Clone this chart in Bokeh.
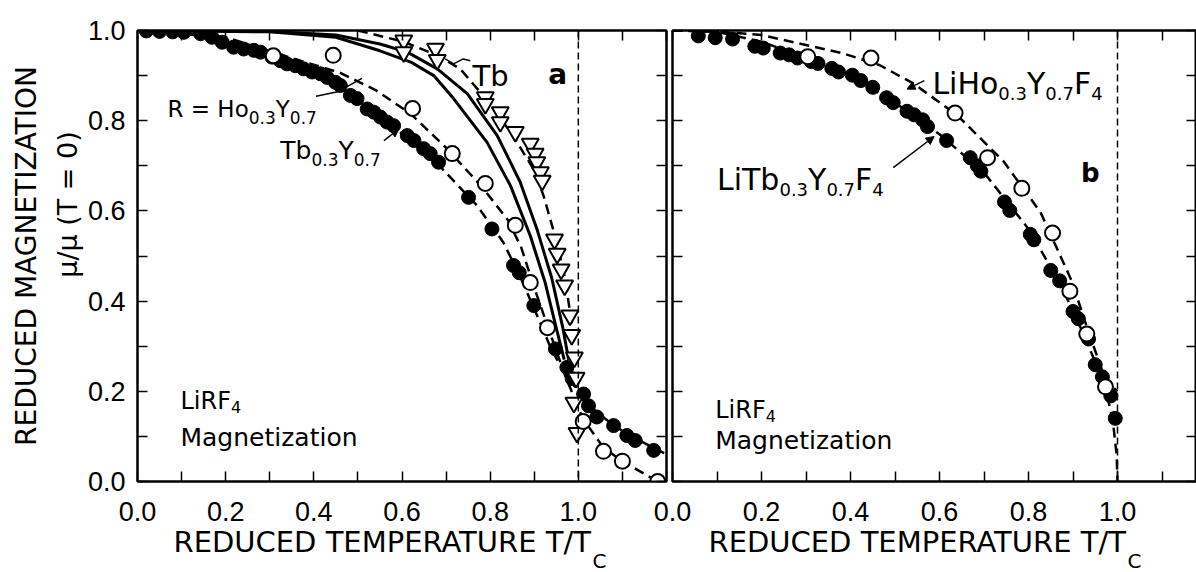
import numpy as np
from bokeh.plotting import figure
from bokeh.layouts import row
from bokeh.models import (Range1d, LinearAxis, FixedTicker, PrintfTickFormatter,
                          Span, Label, Arrow, NormalHead, Title)
from bokeh.embed import file_html
from bokeh.resources import INLINE

# ---------------- panel a : LiRF4, R = Ho0.3Y0.7, Tb0.3Y0.7, Tb ----------------
a_ho30_t = [0.308, 0.444, 0.624, 0.714, 0.789, 0.857, 0.891, 0.930, 1.011, 1.057, 1.100, 1.180]
a_ho30_m = [0.944, 0.945, 0.827, 0.727, 0.661, 0.568, 0.441, 0.341, 0.133, 0.067, 0.045, 0.000]

a_tb30_t = [0.02, 0.05, 0.08, 0.105, 0.143, 0.169, 0.192, 0.218, 0.241, 0.264, 0.279, 0.305,
            0.324, 0.339, 0.358, 0.377, 0.396, 0.415, 0.430, 0.449, 0.460, 0.483, 0.498, 0.521,
            0.536, 0.551, 0.566, 0.581, 0.612, 0.627, 0.649, 0.664, 0.683, 0.751, 0.804, 0.853,
            0.866, 0.899, 0.948, 0.974, 0.986, 1.012, 1.023, 1.042, 1.080, 1.110, 1.129, 1.171]
a_tb30_m = [0.999, 0.998, 0.997, 0.996, 0.993, 0.985, 0.974, 0.963, 0.959, 0.956, 0.952, 0.941,
            0.933, 0.926, 0.922, 0.915, 0.908, 0.904, 0.896, 0.885, 0.878, 0.856, 0.849, 0.826,
            0.819, 0.808, 0.797, 0.789, 0.767, 0.756, 0.738, 0.727, 0.708, 0.630, 0.560, 0.479,
            0.463, 0.390, 0.294, 0.253, 0.228, 0.194, 0.168, 0.143, 0.124, 0.102, 0.091, 0.069]

a_tb_t = [0.604, 0.604, 0.676, 0.680, 0.789, 0.789, 0.823, 0.823, 0.857, 0.891, 0.902, 0.906,
          0.914, 0.918, 0.946, 0.952, 0.961, 0.969, 0.981, 0.985, 0.991, 0.995, 0.990, 0.997]
a_tb_m = [0.978, 0.952, 0.960, 0.935, 0.852, 0.837, 0.819, 0.797, 0.775, 0.749, 0.727, 0.708,
          0.686, 0.667, 0.537, 0.505, 0.470, 0.435, 0.368, 0.325, 0.275, 0.230, 0.175, 0.108]

a_ho30_fit_t = [0.0, 0.2, 0.34, 0.46, 0.54, 0.62, 0.70, 0.78, 0.84, 0.87, 0.90, 0.93, 0.97, 1.01, 1.057, 1.10, 1.18]
a_ho30_fit_m = [1.0, 0.985, 0.942, 0.906, 0.868, 0.815, 0.74, 0.655, 0.58, 0.52, 0.43, 0.345, 0.235, 0.14, 0.075, 0.045, 0.0]

a_tb30_fit_t = [0.0, 0.1, 0.2, 0.3, 0.4, 0.46, 0.55, 0.62, 0.68, 0.77, 0.83, 0.87, 0.91, 0.94, 0.97, 1.0, 1.04, 1.08, 1.12, 1.2]
a_tb30_fit_m = [1.0, 0.997, 0.98, 0.945, 0.905, 0.874, 0.81, 0.755, 0.705, 0.612, 0.53, 0.45, 0.36, 0.29, 0.24, 0.2, 0.155, 0.125, 0.10, 0.06]

a_tb_fit_t = [0.50, 0.604, 0.68, 0.732, 0.789, 0.85, 0.90, 0.921, 0.951, 0.97, 0.985]
a_tb_fit_m = [1.0, 0.975, 0.945, 0.915, 0.85, 0.77, 0.69, 0.634, 0.531, 0.45, 0.35]

a_calc1_t = [0.0, 0.3, 0.45, 0.55, 0.612, 0.68, 0.748, 0.816, 0.868, 0.906, 0.94, 0.965, 0.978]
a_calc1_m = [1.0, 0.998, 0.99, 0.97, 0.952, 0.915, 0.86, 0.767, 0.664, 0.56, 0.45, 0.34, 0.27]
a_calc2_t = [0.0, 0.3, 0.45, 0.55, 0.62, 0.672, 0.717, 0.793, 0.846, 0.891, 0.925, 0.95, 0.968]
a_calc2_m = [1.0, 0.997, 0.985, 0.955, 0.93, 0.90, 0.849, 0.752, 0.656, 0.545, 0.44, 0.34, 0.27]

# ---------------- panel b : LiHo0.3Y0.7F4, LiTb0.3Y0.7F4 ----------------
b_ho30_t = [0.304, 0.446, 0.635, 0.708, 0.785, 0.854, 0.893, 0.931, 0.973]
b_ho30_m = [0.942, 0.939, 0.817, 0.718, 0.650, 0.551, 0.422, 0.327, 0.210]

b_tb30_t = [0.058, 0.096, 0.135, 0.185, 0.204, 0.242, 0.262, 0.281, 0.312, 0.327, 0.358, 0.373,
            0.404, 0.423, 0.450, 0.481, 0.496, 0.527, 0.543, 0.562, 0.573, 0.616, 0.669, 0.685,
            0.693, 0.746, 0.758, 0.804, 0.812, 0.850, 0.870, 0.900, 0.912, 0.935, 0.950, 0.966,
            0.985, 0.995]
b_tb30_m = [0.988, 0.984, 0.981, 0.965, 0.961, 0.950, 0.946, 0.939, 0.931, 0.927, 0.916, 0.908,
            0.901, 0.889, 0.874, 0.851, 0.840, 0.821, 0.813, 0.802, 0.787, 0.756, 0.718, 0.700,
            0.688, 0.620, 0.601, 0.548, 0.536, 0.468, 0.445, 0.377, 0.361, 0.316, 0.259, 0.232,
            0.190, 0.140]

b_ho30_fit_t = [0.0, 0.1, 0.2, 0.312, 0.381, 0.466, 0.542, 0.612, 0.643, 0.743, 0.827, 0.897, 0.932, 0.973, 1.0]
b_ho30_fit_m = [1.0, 0.998, 0.99, 0.965, 0.950, 0.923, 0.882, 0.832, 0.809, 0.711, 0.597, 0.445, 0.340, 0.225, 0.20]

b_tb30_fit_t = [0.0, 0.1, 0.2, 0.3, 0.4, 0.5, 0.6, 0.7, 0.8, 0.85, 0.9, 0.95, 0.975, 0.99, 0.998, 1.0]
b_tb30_fit_m = [1.0, 0.997, 0.975, 0.94, 0.90, 0.84, 0.77, 0.685, 0.56, 0.475, 0.38, 0.265, 0.2, 0.13, 0.06, 0.0]

# ---------------- axes ----------------
x_major = [0.0, 0.2, 0.4, 0.6, 0.8, 1.0]
x_minor = [0.1, 0.3, 0.5, 0.7, 0.9, 1.1, 1.2]
y_major = [0.0, 0.2, 0.4, 0.6, 0.8, 1.0]
y_minor = [0.1, 0.3, 0.5, 0.7, 0.9]
t_c = 1.0
x_title = "REDUCED TEMPERATURE T/T"
x_title_sub = "C"
y_title = "REDUCED MAGNETIZATION"
y_title2 = "\u03bc/\u03bc (T = 0)"

TICK_FONT = "Liberation Sans"
TEXT_FONT = "DejaVu Sans"

# DejaVu Sans advance widths (em) for composing sub-scripted labels
W = {' ': .318, '.': .318, '/': .337, '=': .838, '(': .39, ')': .39,
     'A': .684, 'C': .698, 'D': .770, 'E': .632, 'F': .575, 'G': .775, 'H': .752,
     'I': .295, 'L': .557, 'M': .863, 'N': .748, 'O': .787, 'P': .603, 'R': .695,
     'T': .611, 'U': .732, 'Y': .611, 'Z': .685, 'a': .613, 'b': .635, 'e': .615,
     'g': .635, 'i': .278, 'n': .634, 'o': .612, 't': .392, 'z': .525}
for d in "0123456789":
    W[d] = .636


def tw(s, size):
    return sum(W.get(c, 0.6) for c in s) * size


def add_axis(p, side, major, minor, labelled):
    ax = LinearAxis(ticker=FixedTicker(ticks=major if labelled else [],
                                       minor_ticks=minor if labelled else major + minor),
                    major_tick_in=10, major_tick_out=0, minor_tick_in=10, minor_tick_out=0,
                    major_tick_line_width=1.5, minor_tick_line_width=1.5,
                    major_tick_line_color="black", minor_tick_line_color="black",
                    axis_line_color="black", axis_line_width=2)
    if labelled:
        ax.formatter = PrintfTickFormatter(format="%.1f")
        ax.major_label_text_font = TICK_FONT
        ax.major_label_text_font_size = "27px"
        ax.major_label_text_color = "black"
        ax.major_label_standoff = 20 if side == "below" else 12
    else:
        ax.major_label_standoff = 0
    p.add_layout(ax, side)


def add_title(p, side, s, size, align, offset, standoff):
    p.add_layout(Title(text=s, text_font=TEXT_FONT, text_font_size=f"{size}px",
                       text_font_style="normal", text_color="black", align=align,
                       offset=offset, standoff=standoff), side)


def make_fig(width, x_end, min_left, min_right, y_labels):
    p = figure(width=width, height=572, x_range=Range1d(0, x_end), y_range=Range1d(0, 1.0),
               output_backend="svg", toolbar_location=None,
               x_axis_location=None, y_axis_location=None,
               min_border_left=min_left, min_border_right=min_right,
               min_border_top=30, min_border_bottom=91)
    p.outline_line_color = "black"
    p.outline_line_width = 2
    p.background_fill_color = "white"
    p.border_fill_color = "white"
    for g in p.grid:
        g.visible = False
    add_axis(p, "below", x_major, x_minor, True)
    add_axis(p, "above", x_major, x_minor, False)
    add_axis(p, "left", y_major, y_minor, y_labels)
    add_axis(p, "right", y_major, y_minor, False)
    p.add_layout(Span(location=t_c, dimension="height", line_color="black",
                      line_width=1.5, line_dash="7 4"))
    # x-axis title with subscript
    add_title(p, "below", x_title, 29, "left", 36, -1)
    add_title(p, "below", x_title_sub, 20, "left", 36 + tw(x_title, 29) - 2, -24)
    return p


def text(p, x, y, s, size, bold=False):
    p.add_layout(Label(x=x, y=y, text=s, text_font=TEXT_FONT, text_font_size=f"{size}px",
                       text_font_style="bold" if bold else "normal", text_color="black",
                       text_baseline="alphabetic"))


def formula(p, x, y, parts, size, sub_size, drop):
    off = 0.0
    for s, sub in parts:
        fs = sub_size if sub else size
        p.add_layout(Label(x=x, y=y, x_offset=off, y_offset=-drop if sub else 0, text=s,
                           text_font=TEXT_FONT, text_font_size=f"{fs}px", text_color="black",
                           text_baseline="alphabetic"))
        off += tw(s, fs)


def dashed(p, t, m):
    p.line(t, m, line_color="black", line_width=2.5, line_dash="10 6")


def filled(p, t, m):
    p.scatter(t, m, marker="circle", size=14, fill_color="black", line_color="black")


def hollow(p, t, m):
    p.scatter(t, m, marker="circle", size=15, fill_color="white", line_color="black", line_width=2)


def leader(p, xs, ys, head=True):
    if head:
        p.add_layout(Arrow(x_start=xs[0], y_start=ys[0], x_end=xs[1], y_end=ys[1],
                           line_width=1.5, line_color="black",
                           end=NormalHead(size=8, fill_color="black", line_color="black")))
    else:
        p.line(xs, ys, line_color="black", line_width=1.5)


# ================= panel a =================
pa = make_fig(669, 1.2, 137, 3, True)
# second title line sits above the middle of the axis in the original: pad its start
add_title(pa, "left", "\u00a0" * 12 + y_title2, 27, "center", 0, 3)
add_title(pa, "left", y_title, 28, "center", 0, 11)

dashed(pa, a_ho30_fit_t, a_ho30_fit_m)
dashed(pa, a_tb30_fit_t, a_tb30_fit_m)
dashed(pa, a_tb_fit_t, a_tb_fit_m)
pa.line(a_calc1_t, a_calc1_m, line_color="black", line_width=3)
pa.line(a_calc2_t, a_calc2_m, line_color="black", line_width=3)
filled(pa, a_tb30_t, a_tb30_m)
pa.scatter(a_tb_t, a_tb_m, marker="inverted_triangle", size=17, fill_color="white",
           line_color="black", line_width=2)
hollow(pa, a_ho30_t, a_ho30_m)

leader(pa, [0.405, 0.454, 0.509], [0.854, 0.864, 0.894], head=False)
leader(pa, [0.559, 0.593], [0.756, 0.782])
leader(pa, [0.698, 0.717, 0.739, 0.755], [0.937, 0.926, 0.937, 0.933], head=False)

formula(pa, 0.068, 0.827, [("R = Ho", False), ("0.3", True), ("Y", False), ("0.7", True)], 23, 17, 9)
formula(pa, 0.324, 0.734, [("Tb", False), ("0.3", True), ("Y", False), ("0.7", True)], 25, 17, 9)
text(pa, 0.760, 0.900, "Tb", 29)
text(pa, 0.932, 0.902, "a", 28, bold=True)
formula(pa, 0.0975, 0.178, [("LiRF", False), ("4", True)], 24, 16, 6)
text(pa, 0.0975, 0.098, "Magnetization", 25)

# ================= panel b =================
# the canvas of panel b starts 20 px over the right edge of panel a (negative margin),
# so that its "0.0" tick label can be centred on its frame edge as in the original
pb = make_fig(547, 524 / 445, 23, 0, False)
pb.border_fill_color = None
pb.margin = (0, 0, 0, -20)
dashed(pb, b_ho30_fit_t, b_ho30_fit_m)
dashed(pb, b_tb30_fit_t, b_tb30_fit_m)
filled(pb, b_tb30_t, b_tb30_m)
hollow(pb, b_ho30_t, b_ho30_m)

leader(pb, [0.566, 0.527], [0.889, 0.870])
leader(pb, [0.496, 0.588], [0.696, 0.765])

formula(pb, 0.584, 0.882, [("LiHo", False), ("0.3", True), ("Y", False), ("0.7", True),
                           ("F", False), ("4", True)], 30, 18, 10)
formula(pb, 0.100, 0.670, [("LiTb", False), ("0.3", True), ("Y", False), ("0.7", True),
                           ("F", False), ("4", True)], 30, 18, 10)
text(pb, 0.918, 0.685, "b", 26, bold=True)
formula(pb, 0.096, 0.158, [("LiRF", False), ("4", True)], 24, 16, 6)
text(pb, 0.096, 0.090, "Magnetization", 25)

layout = row(pa, pb, spacing=0)
open("out.html", "w").write(file_html(layout, INLINE))
